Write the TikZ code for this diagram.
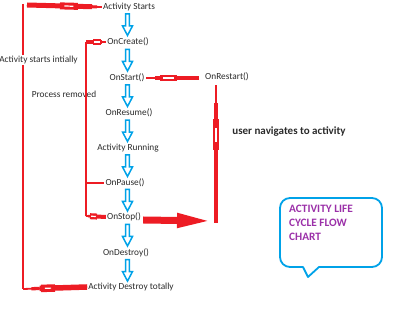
\documentclass[tikz,border=0pt]{standalone}
\usepackage{fontspec}
\setmainfont{Carlito}
\usetikzlibrary{calc,arrows.meta}
\definecolor{rd}{HTML}{ED1C24}
\definecolor{bl}{HTML}{00A2E8}
\definecolor{pu}{HTML}{9B30A8}
\definecolor{tx}{HTML}{2A2A2A}
\newcommand{\fatarr}[6]{% from, to, bulge start, bulge end, taper start, bar width
  \draw[rd, line width=1.8pt] (#1) -- (#2);
  \draw[rd, line width=#6] (#1) -- ($(#1)!#5!(#2)$);
  \draw[rd, line width=0.6*#6] ($(#1)!#5!(#2)$) -- ($(#1)!{#5+(1-#5)*0.5}!(#2)$);
  \draw[rd, line width=#6+2pt] ($(#1)!#3!(#2)$) -- ($(#1)!#4!(#2)$);
  \draw[white, line width=1.2pt] ($(#1)!{#3+0.06}!(#2)$) -- ($(#1)!{#4-0.06}!(#2)$);
}
\begin{document}
\begin{tikzpicture}[x=1pt,y=-1pt,
  lbl/.style={font=\fontsize{9.3}{10}\selectfont, text=tx, inner sep=1pt},
  rl/.style={draw=rd, line width=2.2pt},
  downarr/.pic={\draw[bl, line width=1.5pt, line join=miter]
     (-1.9,-11) -- (-1.9,1) -- (-5,1) -- (0,10.5) -- (5,1) -- (1.9,1) -- (1.9,-11) -- cycle;}]
\useasboundingbox (0,0) rectangle (400,312);

% labels
\node[lbl] (as) at (129,7) {Activity Starts};
\node[lbl] (cr) at (128,42) {OnCreate()};
\node[lbl] (st) at (127,78) {OnStart()};
\node[lbl] (rs) at (227,77) {OnRestart()};
\node[lbl] (re) at (129,113) {OnResume()};
\node[lbl] (ru) at (128,148) {Activity Running};
\node[lbl] (pa) at (125,183) {OnPause()};
\node[lbl] (so) at (124,217) {OnStop()};
\node[lbl] (de) at (126,253) {OnDestroy()};
\node[lbl] (ad) at (131,287) {Activity Destroy totally};
\node[lbl] (asi) at (38.5,60) {Activity starts intially};
\node[lbl] (pr) at (64,94) {Process removed};
\node[lbl, font=\fontsize{11}{12}\selectfont\bfseries] (un) at (289,132) {user navigates to activity};

% blue flow arrows
\coordinate (ax) at (127.5,0);
\foreach \a/\b in {as/cr, cr/st, st/re, re/ru, ru/pa, pa/so, so/de, de/ad}{
  \coordinate (m) at ($(\a.south)!0.5!(\b.north)$);
  \pic at ($(ax |- m)+(0,0.5)$) {downarr};
}

% left outer loop
\coordinate (tl) at (27,5);
\fatarr{tl}{as.west}{0.44}{0.68}{0.87}{5pt}
\coordinate (ltop) at (23,4);
\coordinate (lbot) at (23,289);
\draw[rl] (ltop) -- (ltop |- asi.north);
\draw[rl] (ltop |- asi.south) -- (lbot);
\fatarr{ad.west}{lbot}{0.50}{0.72}{0.74}{5.5pt}

% process removed loop
\coordinate (pc) at (86,42);
\coordinate (pp) at (pc |- pa.west);
\coordinate (ps) at (86,216);
\draw[rl] (pc) -- (ps);
\fatarr{pc}{cr.west}{0.35}{0.75}{0.8}{4pt}
\draw[rl, line width=2pt] (pp) -- (pa.west);
\fatarr{so.west}{ps}{0.45}{0.8}{0.8}{4pt}

% restart loop
\coordinate (rsw) at ($(rs.west)+(-5,1)$);
\fatarr{rsw}{st.east}{0.41}{0.73}{0.82}{4.5pt}
\coordinate (vt) at (216,85);
\coordinate (vb) at (216,223);
\fatarr{vb}{vt}{0.53}{0.75}{0.87}{4.5pt}
\coordinate (vtip) at (213,221);
\draw[rd, line width=7pt, -{Triangle[length=36pt,width=13pt]}] ($(so.east)+(1,3)$) -- (vtip);

% speech bubble
\draw[bl, line width=1.8pt, line join=round]
  (303,267) [rounded corners=10pt] -- (280,267) -- (280,198) -- (382,198) -- (382,267) [sharp corners] -- (319,267) -- (308,277) -- cycle;
\node[anchor=north west, align=left, inner sep=0pt, text=pu,
  font=\fontsize{11.3}{14}\selectfont\bfseries] (bt) at (289,205) {ACTIVITY LIFE\\CYCLE FLOW\\CHART};
\end{tikzpicture}
\end{document}
